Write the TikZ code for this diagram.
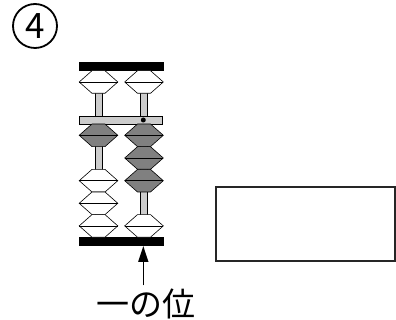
\documentclass[tikz,border=0pt]{standalone}
\usepackage{fontspec}
\newfontfamily\jpfont{Noto Sans CJK JP}
\usetikzlibrary{calc, arrows.meta, positioning}

\begin{document}
\begin{tikzpicture} [x=1pt, y=-1pt,
		% define styles
		framestyle/.style={
			% The shape:
			rectangle,
			% The size:
			minimum width=84pt,
			minimum height=8pt,
			inner sep=0pt,
			% The border and filling:
			draw=black,
			fill=black
		},
		beamstyle/.style={
			% The shape:
			rectangle,
			% The size:
			minimum width=83pt,
			minimum height=8pt,
			inner sep=0pt,
			% The border:
			line width=0.6pt,
			draw=black,
			% The filling:
			fill=black!20
		},
		rodstyle/.style={
			% The shape:
			rectangle,
			% The size:
			minimum width=7pt,
			minimum height=166pt,
			inner sep=0pt,
			% The border:
			line width=0.6pt,
			draw=black,
			% The filling:
			fill=black!20
		},
		whitebead/.style={
			draw=black,
			line width=0.6pt,
			fill=white
		},
		graybead/.style={
			draw=black,
			line width=0.6pt,
			fill=black!50
		},
		pics/bead/.style={code={
			\path[pic actions] (-19.3,0) -- (-6.5,-11.3) -- (6.5,-11.3) -- (19.3,0) -- (6.5,11.3) -- (-6.5,11.3) -- cycle;
			\draw[line width=0.6pt] (-19.3,0) -- (19.3,0);
		}},
		arrow/.style={
			-{Triangle[length=16pt, width=10pt]},
			% Thickness
			line width=1.5pt,
			% Color
			black
		}]
		% end of style definition
		
		\useasboundingbox (0,0) rectangle (396,320);
		
		% draw nodes
		\node (number) [circle, draw, line width=1.8pt, minimum size=44pt, inner sep=0pt, font=\jpfont\fontsize{35}{35}\selectfont] at (35,26) {4};
		
		\node (leftrod) [rodstyle] at (98.5,153.7) {};
		\node (rightrod) [rodstyle] at (143.5,153.7) {};
		
		\node (beam) [beamstyle] at (121,120) {};
		\node (topframe) [framestyle] at (121,66.7) {};
		\node (bottomframe) [framestyle] at (121,240.8) {};
		
		% left column
		\pic [whitebead] at (98.5,82) {bead};
		\pic [graybead] at (98.5,135.3) {bead};
		\pic [whitebead] at (98.5,180.7) {bead};
		\pic [whitebead] at (98.5,203.3) {bead};
		\pic [whitebead] at (98.5,225.9) {bead};
		
		% right column
		\pic [whitebead] at (144,82) {bead};
		\pic [graybead] at (144,135.3) {bead};
		\pic [graybead] at (144,158) {bead};
		\pic [graybead] at (144,180.7) {bead};
		\pic [whitebead] at (144,225.9) {bead};
		
		\fill (143.3,120) circle (2.5pt);
		
		\node (answer) [rectangle, draw=black!85, line width=2pt, minimum width=179pt, minimum height=74pt] at (305,224.5) {};
		
		\node (place) [font=\jpfont\fontsize{33}{33}\selectfont] at (145.5,304) {一の位};
		\coordinate (tip) at (143.3,246);
		
		% connect nodes
		\draw [arrow] (place.north -| tip) -- (tip);
	\end{tikzpicture}
\end{document}
